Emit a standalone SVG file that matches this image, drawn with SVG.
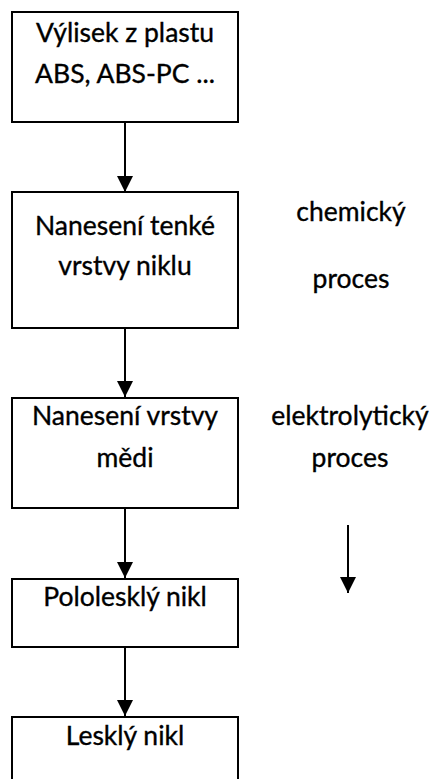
<svg xmlns="http://www.w3.org/2000/svg" width="432" height="779" viewBox="0 0 432 779">
<style>
.box{fill:#fff;stroke:#000;stroke-width:2}
.t{font-family:Lato,"Liberation Sans",Arial,sans-serif;font-size:26.5px;fill:#000;stroke:#000;stroke-width:0.35;text-anchor:middle}
.c{stroke:#000;stroke-width:2;fill:none}
</style>
<defs>
<marker id="ah" markerUnits="userSpaceOnUse" markerWidth="16" markerHeight="16" refX="14" refY="7" orient="auto" viewBox="0 0 14 14">
<path d="M0,0 L14,7 L0,14 Z" fill="#000"/>
</marker>
</defs>
<rect width="432" height="779" fill="#fff"/>
<g id="connectors">
<line class="c" x1="125" y1="122" x2="125" y2="192" marker-end="url(#ah)"/>
<line class="c" x1="125" y1="328" x2="125" y2="397" marker-end="url(#ah)"/>
<line class="c" x1="125" y1="508" x2="125" y2="578" marker-end="url(#ah)"/>
<line class="c" x1="125" y1="647" x2="125" y2="716" marker-end="url(#ah)"/>
<line class="c" x1="348" y1="525" x2="348" y2="593" marker-end="url(#ah)"/>
</g>
<g id="n1">
<rect class="box" x="12" y="12" width="226" height="110"/>
<text class="t" x="125" y="42">Výlisek z plastu</text>
<text class="t" x="125" y="83">ABS, ABS-PC ...</text>
</g>
<g id="n2">
<rect class="box" x="12" y="192" width="226" height="136"/>
<text class="t" x="125" y="235">Nanesení tenké</text>
<text class="t" x="125" y="275">vrstvy niklu</text>
</g>
<g id="n3">
<rect class="box" x="12" y="398" width="226" height="110"/>
<text class="t" x="125" y="425">Nanesení vrstvy</text>
<text class="t" x="125" y="467">mědi</text>
</g>
<g id="n4">
<rect class="box" x="12" y="579" width="226" height="68"/>
<text class="t" x="125" y="606">Pololesklý nikl</text>
</g>
<g id="n5">
<path class="box" d="M12,790 V717 H238 V790"/>
<text class="t" x="125" y="745">Lesklý nikl</text>
</g>
<g id="labels">
<text class="t" x="351" y="221">chemický</text>
<text class="t" x="351" y="288">proces</text>
<text class="t" x="350" y="425">elektrolytický</text>
<text class="t" x="350" y="467">proces</text>
</g>
</svg>
